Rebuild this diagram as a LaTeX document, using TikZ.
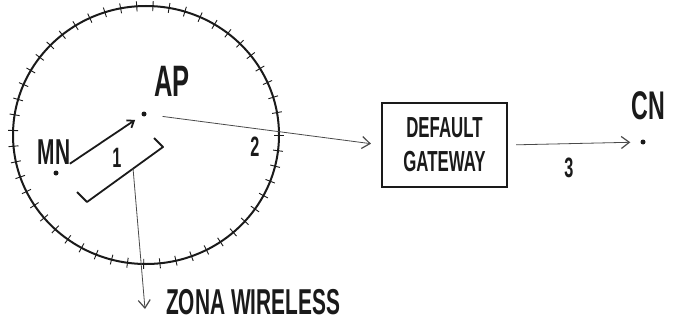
\documentclass[tikz,border=0pt]{standalone}
\usepackage{fontspec}
\setmainfont{Liberation Sans}
\newfontfamily\sketchfont[FakeStretch=0.58]{Liberation Sans}
\usepackage{tikz}
\usetikzlibrary{arrows.meta,calc,positioning}
\definecolor{Ink}{HTML}{1A1A1A}
\definecolor{Pencil}{HTML}{4A4A4A}

\begin{document}
\begin{tikzpicture}[
  x=1pt,
  y=-1pt,
  dot/.style={circle,fill=Ink,inner sep=0pt,minimum size=5pt},
  lbl/.style={font=\sketchfont\bfseries\fontsize{36}{38}\selectfont,text=Ink,inner sep=0pt},
  numlbl/.style={font=\sketchfont\bfseries\fontsize{28}{30}\selectfont,text=Ink,inner sep=0pt},
  gwbox/.style={draw=Ink,line width=2.2pt,minimum width=125pt,minimum height=84pt,align=center,font=\sketchfont\bfseries\fontsize{29}{34}\selectfont,text=Ink,inner sep=0pt},
  thinarrow/.style={draw=Pencil,line width=0.8pt,-{Straight Barb[length=8pt,width=12pt,line width=1.2pt]}},
  thickarrow/.style={draw=Ink,line width=1.8pt,-{Straight Barb[length=6pt,width=9pt]}}
]
  \useasboundingbox (0,0) rectangle (676,326);

  % Wireless zone
  \draw[Ink,line width=2pt] (146,135) ellipse [x radius=133,y radius=129];
  \foreach \a in {0,7,...,353} {
    \draw[Ink,line width=0.9pt] ({146+128*cos(\a)},{135+124*sin(\a)}) -- ({146+138*cos(\a)},{135+134*sin(\a)});
  }

  % Nodes
  \node[dot] (ap) at (144,114) {};
  \node[lbl,font=\sketchfont\bfseries\fontsize{44}{46}\selectfont] (aplbl) at (172,81) {AP};
  \node[dot] (mn) at (56,173) {};
  \node[lbl] (mnlbl) at (54,152) {MN};
  \node[gwbox] (gw) at (444.5,145) {DEFAULT\\GATEWAY};
  \node[dot] (cn) at (643,142) {};
  \node[lbl,font=\sketchfont\bfseries\fontsize{40}{42}\selectfont] (cnlbl) at (648,106) {CN};

  % Step 1: MN to AP
  \draw[thickarrow,shorten <=14pt,shorten >=8pt] (mn) -- (ap);
  \node[numlbl] (one) at (117,158) {1};
  \coordinate (brA) at (77,192);
  \coordinate (brB) at (87,202);
  \coordinate (brM) at (133,168);
  \coordinate (brC) at (163,147);
  \coordinate (brD) at (154,138);
  \draw[Ink,line width=1.8pt,line join=round] (brA) -- (brB) -- (brC) -- (brD);

  % Steps 2 and 3
  \draw[thinarrow,shorten <=16pt,shorten >=10pt] (ap) -- (gw.west);
  \node[numlbl] (two) at (255,147) {2};
  \draw[thinarrow,shorten <=8pt,shorten >=10pt] (gw.east) -- (cn);
  \node[numlbl] (three) at (569,168) {3};

  % Zone label
  \coordinate (zone) at (145,309);
  \draw[thinarrow] (brM) -- (zone);
  \node[lbl,anchor=west] (zonelbl) at (166,302) {ZONA WIRELESS};
\end{tikzpicture}
\end{document}
